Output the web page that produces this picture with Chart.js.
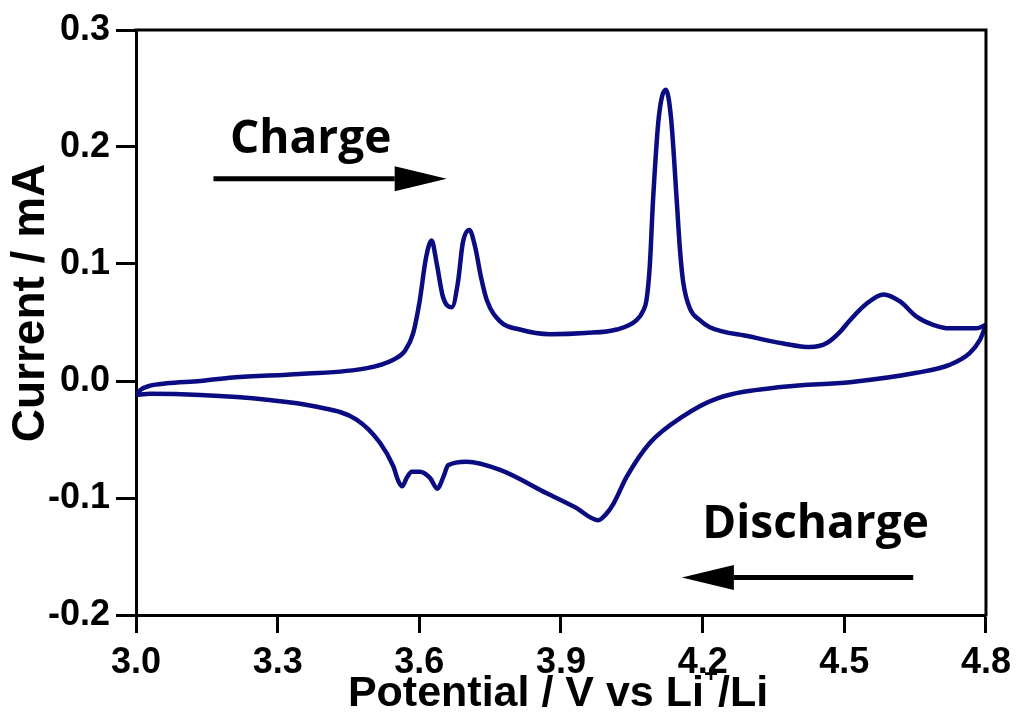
<!DOCTYPE html>
<html>
<head>
<meta charset="utf-8">
<title>Cyclic voltammogram</title>
<script src="https://cdn.jsdelivr.net/npm/chart.js@4.4.1/dist/chart.umd.min.js"></script>
<style>
  html, body { margin: 0; padding: 0; background: #fff; }
</style>
</head>
<body>
<canvas id="cv" width="1019" height="724"></canvas>
<script>
// potential (V) and current (mA)
const chargeV = [3.000, 3.008, 3.030, 3.065, 3.136, 3.205, 3.347, 3.489, 3.544, 3.570,
  3.587, 3.601, 3.614, 3.626, 3.637, 3.650, 3.669, 3.682, 3.692, 3.706,
  3.718, 3.731, 3.743, 3.771, 3.813, 3.877, 3.951, 4.018, 4.060, 4.074,
  4.081, 4.088, 4.095, 4.107, 4.122, 4.133, 4.145, 4.152, 4.159, 4.173,
  4.194, 4.215, 4.300, 4.371, 4.427, 4.463, 4.491, 4.512, 4.547, 4.583,
  4.618, 4.653, 4.688, 4.724, 4.780, 4.800];
const chargeI = [-0.012, -0.008, -0.004, -0.002, 0.000, 0.003, 0.006, 0.011, 0.018, 0.026,
  0.041, 0.069, 0.105, 0.120, 0.100, 0.072, 0.063, 0.085, 0.118, 0.129,
  0.115, 0.088, 0.069, 0.051, 0.044, 0.040, 0.041, 0.044, 0.052, 0.060,
  0.069, 0.098, 0.155, 0.225, 0.249, 0.225, 0.155, 0.112, 0.084, 0.062,
  0.052, 0.046, 0.038, 0.032, 0.029, 0.0325, 0.042, 0.052, 0.066, 0.074,
  0.068, 0.055, 0.048, 0.045, 0.045, 0.048];

const dischargeV = [3.000, 3.030, 3.136, 3.277, 3.383, 3.467, 3.517, 3.545, 3.555, 3.564,
  3.573, 3.584, 3.601, 3.623, 3.638, 3.651, 3.661, 3.700, 3.771, 3.870,
  3.930, 3.979, 3.995, 4.011, 4.039, 4.088, 4.159, 4.230, 4.371, 4.512,
  4.653, 4.724, 4.766, 4.787, 4.800];
const dischargeI = [-0.012, -0.011, -0.012, -0.016, -0.022, -0.033, -0.053, -0.073, -0.085, -0.090,
  -0.083, -0.0776, -0.0776, -0.083, -0.092, -0.082, -0.072, -0.069, -0.076, -0.096,
  -0.108, -0.119, -0.114, -0.105, -0.082, -0.053, -0.030, -0.015, -0.005, -0.001,
  0.007, 0.014, 0.024, 0.035, 0.048];

const xTicks = [3.0, 3.3, 3.6, 3.9, 4.2, 4.5, 4.8];
const yTicks = [-0.2, -0.1, 0.0, 0.1, 0.2, 0.3];

const lineColor = '#0b0b82';
const tickFont = { family: '"Liberation Sans", Arial, sans-serif', size: 36, weight: 'bold' };

const toPoints = (xs, ys) => xs.map((x, i) => ({ x: x, y: ys[i] }));

// arrows + labels, in data coordinates
const notes = [
  { text: 'Charge', x: 3.199, y: 0.195, from: 3.164, to: 3.658, ay: 0.1728 },
  { text: 'Discharge', x: 4.199, y: -0.134, from: 4.646, to: 4.156, ay: -0.168 }
];

const decor = {
  id: 'decor',
  afterDraw(chart) {
    const ctx = chart.ctx;
    const a = chart.chartArea;
    const sx = chart.scales.x, sy = chart.scales.y;
    ctx.save();

    // top + right frame
    ctx.strokeStyle = '#000';
    ctx.lineWidth = 3;
    ctx.lineCap = 'square';
    ctx.beginPath();
    ctx.moveTo(a.left, a.top);
    ctx.lineTo(a.right, a.top);
    ctx.lineTo(a.right, a.bottom);
    ctx.stroke();

    // y title
    ctx.fillStyle = '#000';
    ctx.font = 'bold 46px "Liberation Sans", Arial, sans-serif';
    ctx.textAlign = 'center';
    ctx.textBaseline = 'middle';
    ctx.save();
    ctx.translate(31, 303);
    ctx.rotate(-Math.PI / 2);
    ctx.fillText('Current / mA', 0, 0);
    ctx.restore();

    // x title with superscript
    const main = 'Potential / V vs Li', sup = '+', tail = '/Li';
    const big = 'bold 43px "Liberation Sans", Arial, sans-serif';
    const small = 'bold 24px "Liberation Sans", Arial, sans-serif';
    ctx.textAlign = 'left';
    ctx.textBaseline = 'alphabetic';
    ctx.font = big;
    const w1 = ctx.measureText(main).width, w3 = ctx.measureText(tail).width;
    ctx.font = small;
    const w2 = ctx.measureText(sup).width;
    let tx = 558 - (w1 + w2 + w3) / 2;
    const base = 706;
    ctx.font = big;
    ctx.fillText(main, tx, base);
    tx += w1;
    ctx.font = small;
    ctx.fillText(sup, tx, base - 24);
    tx += w2;
    ctx.font = big;
    ctx.fillText(tail, tx, base);

    // Charge / Discharge notes
    ctx.font = 'bold 46px "Open Sans", Lato, sans-serif';
    notes.forEach(n => {
      ctx.fillText(n.text, sx.getPixelForValue(n.x), sy.getPixelForValue(n.y));
      const x0 = sx.getPixelForValue(n.from), x1 = sx.getPixelForValue(n.to);
      const y = sy.getPixelForValue(n.ay);
      const dir = Math.sign(x1 - x0);
      const hb = x1 - dir * 52;
      ctx.lineWidth = 5;
      ctx.lineCap = 'butt';
      ctx.beginPath();
      ctx.moveTo(x0, y);
      ctx.lineTo(hb, y);
      ctx.stroke();
      ctx.beginPath();
      ctx.moveTo(hb, y - 12.5);
      ctx.lineTo(x1, y);
      ctx.lineTo(hb, y + 12.5);
      ctx.closePath();
      ctx.fill();
    });
    ctx.restore();
  }
};

const lineStyle = {
  showLine: true,
  borderColor: lineColor,
  backgroundColor: lineColor,
  borderWidth: 4.5,
  pointRadius: 0,
  cubicInterpolationMode: 'monotone'
};

new Chart(document.getElementById('cv'), {
  type: 'scatter',
  data: {
    datasets: [
      Object.assign({ label: 'Charge', data: toPoints(chargeV, chargeI) }, lineStyle),
      Object.assign({ label: 'Discharge', data: toPoints(dischargeV, dischargeI) }, lineStyle)
    ]
  },
  options: {
    responsive: false,
    animation: false,
    layout: { padding: { top: 30, right: 33, left: 0, bottom: 0 } },
    plugins: { legend: { display: false }, tooltip: { enabled: false } },
    scales: {
      x: {
        type: 'linear',
        min: 3.0,
        max: 4.8,
        afterBuildTicks: s => { s.ticks = xTicks.map(v => ({ value: v })); },
        afterFit: s => { s.height = 109; },
        ticks: { font: tickFont, color: '#000', padding: 8, maxRotation: 0, autoSkip: false,
          callback: v => v.toFixed(1) },
        grid: { drawOnChartArea: false, tickLength: 18, tickWidth: 3, tickColor: '#000' },
        border: { display: true, width: 3, color: '#000' }
      },
      y: {
        min: -0.2,
        max: 0.3,
        afterBuildTicks: s => { s.ticks = yTicks.map(v => ({ value: v })); },
        afterFit: s => { s.width = 136; },
        ticks: { font: tickFont, color: '#000', padding: 6, autoSkip: false,
          callback: v => v.toFixed(1) },
        grid: { drawOnChartArea: false, tickLength: 20, tickWidth: 3, tickColor: '#000' },
        border: { display: true, width: 3, color: '#000' }
      }
    }
  },
  plugins: [decor]
});
</script>
</body>
</html>
